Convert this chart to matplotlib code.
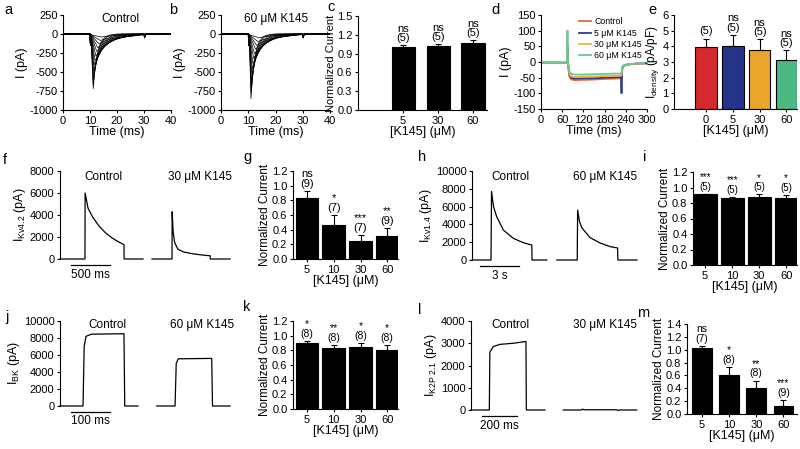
import matplotlib
matplotlib.use("Agg")
import matplotlib.pyplot as plt
import numpy as np

plt.rcParams["font.family"] = ["Liberation Sans", "DejaVu Sans"]
plt.rcParams["mathtext.fontset"] = "custom"
plt.rcParams["mathtext.rm"] = "Liberation Sans"
plt.rcParams["mathtext.it"] = "Liberation Sans:italic"
plt.rcParams["axes.unicode_minus"] = False

W, H = 800, 449

# ---- a / b : Na current families (peak pA, peak time ms, decay time ms)
A_PEAKS = [-720, -660, -600, -530, -470, -410, -350, -290, -230, -180, -130, -85, -40]
A_TPEAK = [11.2, 11.2, 11.3, 11.4, 11.5, 11.7, 11.9, 12.2, 12.5, 12.9, 13.3, 13.8, 14.3]
A_TAU = [1.5, 1.8, 2.2, 2.7, 3.3, 4.0, 4.7, 5.3, 5.8, 6.2, 6.5, 6.5, 6.5]
B_PEAKS = [-850, -770, -690, -610, -530, -460, -390, -320, -260, -200, -150, -100, -50]
B_TPEAK = [11.0, 11.1, 11.1, 11.2, 11.3, 11.5, 11.7, 12.0, 12.3, 12.7, 13.1, 13.6, 14.1]
B_TAU = [1.4, 1.6, 2.0, 2.4, 2.9, 3.5, 4.1, 4.7, 5.2, 5.6, 6.0, 6.0, 6.0]
DECAY_K = [0, 0.3, 0.7, 1, 1.5, 2, 3, 4, 6]
DECAY_FRAC = [1, 0.74, 0.5, 0.37, 0.22, 0.14, 0.05, 0.02, 0.0]

# ---- d : Nav traces
D_TIME = [0, 73, 75, 76, 80, 85, 95, 120, 150, 180, 210, 226, 228, 230, 234, 245, 270, 300]
D_CONTROL = [-2, -2, 40, 0, -45, -55, -58, -57, -56, -54, -53, -52, -50, -20, -12, -8, -5, -4]
D_5UM = [-2, -2, 50, 0, -40, -50, -53, -52, -52, -50, -49, -48, -100, -20, -12, -8, -5, -4]
D_30UM = [-2, -2, 60, 0, -38, -46, -48, -47, -46, -45, -44, -44, -42, -18, -12, -8, -5, -4]
D_60UM = [-3, -3, 100, 5, -30, -38, -40, -40, -39, -38, -37, -37, -36, -15, -10, -7, -5, -3]
D_LABELS = ["Control", "5 μM K145", "30 μM K145", "60 μM K145"]
D_COLORS = ["#E4673E", "#2E3B8C", "#F2B134", "#6CC497"]

# ---- bar panels
C_CATS = ["5", "30", "60"]
C_MEANS = [1.0, 1.02, 1.07]
C_ERR = [0.03, 0.03, 0.04]
C_N = [5, 5, 5]
C_SIG = ["ns", "ns", "ns"]

E_CATS = ["0", "5", "30", "60"]
E_MEANS = [3.95, 4.05, 3.75, 3.15]
E_ERR = [0.55, 0.7, 0.7, 0.6]
E_N = [5, 5, 5, 5]
E_SIG = ["", "ns", "ns", "ns"]
E_COLORS = ["#D42A2F", "#25338A", "#EAA62B", "#4CB985"]

CATS4 = ["5", "10", "30", "60"]
G_MEANS = [0.83, 0.47, 0.24, 0.32]
G_ERR = [0.1, 0.13, 0.09, 0.1]
G_N = [9, 7, 7, 9]
G_SIG = ["ns", "*", "***", "**"]

I_MEANS = [0.91, 0.87, 0.88, 0.87]
I_ERR = [0.01, 0.01, 0.03, 0.03]
I_N = [5, 5, 5, 5]
I_SIG = ["***", "***", "*", "*"]

K_MEANS = [0.90, 0.83, 0.84, 0.80]
K_ERR = [0.03, 0.04, 0.06, 0.07]
K_N = [8, 8, 8, 8]
K_SIG = ["*", "**", "*", "*"]

M_MEANS = [1.03, 0.61, 0.40, 0.13]
M_ERR = [0.03, 0.12, 0.12, 0.09]
M_N = [7, 8, 8, 9]
M_SIG = ["ns", "*", "**", "***"]

# ---- f / h / j / l : example traces (control, drug)
F_CTRL_T = [0, 320, 322, 360, 420, 500, 580, 660, 740, 820, 822, 1064]
F_CTRL_Y = [0, 0, 6000, 4600, 3800, 3000, 2400, 1950, 1600, 1300, 0, 0]
F_DRUG_T = [0, 256, 258, 270, 290, 330, 400, 500, 600, 700, 744, 746, 1000]
F_DRUG_Y = [0, 0, 4300, 2500, 1500, 900, 650, 500, 400, 320, 300, 0, 0]

H_CTRL_T = [0, 1.46, 1.5, 1.65, 1.9, 2.41, 3.18, 3.95, 4.59, 4.61, 5.74]
H_CTRL_Y = [0, 0, 7700, 6000, 4850, 3360, 2430, 1940, 1680, 0, 0]
H_DRUG_T = [0, 1.57, 1.6, 1.75, 1.93, 2.57, 3.34, 4.1, 4.67, 4.69, 6.16]
H_DRUG_Y = [0, 0, 5600, 4300, 3600, 2500, 1900, 1500, 1350, 0, 0]

J_CTRL_T = [0, 59, 62, 66.7, 81, 164, 166, 200]
J_CTRL_Y = [0, 0, 7000, 8200, 8450, 8500, 0, 0]
J_DRUG_T = [0, 47, 50, 55, 141, 143, 188]
J_DRUG_Y = [0, 0, 5000, 5550, 5600, 0, 0]

L_CTRL_T = [0, 103, 106, 125, 163, 238, 309, 311, 416]
L_CTRL_Y = [0, 0, 2600, 2850, 2950, 3000, 3080, 0, 0]
L_DRUG_T = [0, 100, 108, 116, 300, 308, 316, 412]
L_DRUG_Y = [0, 0, 40, 10, 10, -20, 0, 0]

fig = plt.figure(figsize=(W / 100, H / 100), dpi=100)


def px_axes(left, top, right, bottom):
    return fig.add_axes([left / W, 1 - bottom / H, (right - left) / W, (bottom - top) / H])


def ptext(x, y, s, **kw):
    kw.setdefault("ha", "center")
    kw.setdefault("va", "center")
    kw.setdefault("fontsize", 8.5)
    fig.text(x / W, 1 - y / H, s, **kw)


def style(ax):
    for side in ("top", "right"):
        ax.spines[side].set_visible(False)
    for side in ("left", "bottom"):
        ax.spines[side].set_linewidth(0.8)
    ax.tick_params(direction="out", length=2.5, width=0.8, labelsize=8, pad=1.5)


def na_family(ax, peaks, tpeaks, taus, title_x, title):
    for p, tp, tau in zip(peaks, tpeaks, taus):
        t = [0, 10.0, 10.15, 10.35, tp] + [tp + k * tau for k in DECAY_K[1:]] + [30, 30.2, 30.5, 40]
        y = [0, 0, -150, -10, p] + [p * f for f in DECAY_FRAC[1:]] + [0, -50, 0, 0]
        order = np.argsort(t, kind="stable")
        ax.plot(np.array(t)[order], np.array(y)[order], color="black", lw=0.5)
    style(ax)
    ax.set_xlim(0, 40)
    ax.set_ylim(-1000, 250)
    ax.set_xticks([0, 10, 20, 30, 40])
    ax.set_yticks([250, 0, -250, -500, -750, -1000])
    ax.set_xlabel("Time (ms)", fontsize=9, labelpad=0)
    ax.set_ylabel("I (pA)", fontsize=9, labelpad=1)
    ptext(title_x, 19, title)


def bar_panel(ax, cats, means, errs, ns, sigs, ymax, ystep, xlim, width,
              colors="black", fmt="%.1f", annot_size=8, ylabel="Normalized Current",
              ylabel_size=8.5):
    x = np.arange(len(cats))
    ax.bar(x, means, width=width, color=colors, edgecolor="black", linewidth=0.8)
    ax.errorbar(x, means, yerr=[np.zeros(len(errs)), errs], fmt="none", ecolor="black",
                elinewidth=0.8, capsize=2.2, capthick=0.8)
    for xi, m, e, n, s in zip(x, means, errs, ns, sigs):
        label = f"{s}\n({n})" if s else f"({n})"
        ax.annotate(label, xy=(xi, m + e), xytext=(0, 1.5), textcoords="offset points",
                    ha="center", va="bottom", fontsize=annot_size, linespacing=0.95,
                    annotation_clip=False)
    style(ax)
    ax.set_xlim(*xlim)
    ax.set_ylim(0, ymax)
    ax.set_xticks(x)
    ax.set_xticklabels(cats)
    ticks = np.arange(0, ymax + ystep / 2, ystep)
    ax.set_yticks(ticks)
    ax.set_yticklabels([fmt % t for t in ticks])
    ax.set_xlabel("[K145] (μM)", fontsize=9, labelpad=0)
    ax.set_ylabel(ylabel, fontsize=ylabel_size, labelpad=1)


def trace_panel(ax, ct, cy, dt, dy, offset, xmax, ymax, ystep, ylabel, bar_t, bar_label,
                ctrl_xy, drug_xy, drug_label):
    ax.plot(ct, cy, color="black", lw=0.9, clip_on=False)
    ax.plot(np.array(dt) + offset, dy, color="black", lw=0.9, clip_on=False)
    style(ax)
    ax.spines["bottom"].set_visible(False)
    ax.tick_params(axis="x", bottom=False, labelbottom=False)
    ax.set_xlim(0, xmax)
    ax.set_ylim(0, ymax)
    ax.set_yticks(np.arange(0, ymax + 1, ystep))
    ax.set_ylabel(ylabel, fontsize=9, labelpad=1)
    ax.plot(bar_t, [-0.07 * ymax] * 2, color="black", lw=0.9, clip_on=False)
    ax.text(sum(bar_t) / 2, -0.11 * ymax, bar_label, ha="center", va="top", fontsize=8.5)
    ptext(*ctrl_xy, "Control")
    ptext(*drug_xy, drug_label)


# a, b
ax = px_axes(63, 15, 171, 110)
na_family(ax, A_PEAKS, A_TPEAK, A_TAU, 120, "Control")
ax = px_axes(221, 15, 330, 110)
na_family(ax, B_PEAKS, B_TPEAK, B_TAU, 276, "60 μM K145")

# c
ax = px_axes(358, 16, 487, 110)
bar_panel(ax, C_CATS, C_MEANS, C_ERR, C_N, C_SIG, 1.5, 0.3, (-1.29, 2.4), 0.66,
          ylabel_size=8)

# d
ax = px_axes(541, 15, 647, 109)
for ys, lab, col in zip([D_CONTROL, D_5UM, D_30UM, D_60UM], D_LABELS, D_COLORS):
    ax.plot(D_TIME, ys, color=col, lw=1.3, label=lab)
style(ax)
ax.set_xlim(0, 300)
ax.set_ylim(-150, 150)
ax.set_xticks(range(0, 301, 60))
ax.set_yticks(range(-150, 151, 50))
ax.set_xlabel("Time (ms)", fontsize=9, labelpad=0)
ax.set_ylabel("I (pA)", fontsize=9, labelpad=1)
ax.legend(loc="upper right", bbox_to_anchor=(1.0, 1.03), fontsize=6.3, frameon=False,
          handlelength=1.3, handletextpad=0.4, labelspacing=0.25, borderaxespad=0.2)

# e
ax = px_axes(674, 15, 797, 109)
bar_panel(ax, E_CATS, E_MEANS, E_ERR, E_N, E_SIG, 6, 1, (-1.2, 3.4), 0.8,
          colors=E_COLORS, fmt="%d", ylabel="I$_{\\mathrm{density}}$ (pA/pF)")

# f, g
ax = px_axes(60, 171, 232, 259)
trace_panel(ax, F_CTRL_T, F_CTRL_Y, F_DRUG_T, F_DRUG_Y, 1180, 2205, 8000, 2000,
            "I$_{\\mathrm{Kv4.2}}$ (pA)", [141, 641], "500 ms", (103, 177), (200, 177), "30 μM K145")
ax = px_axes(293, 171, 398, 259)
bar_panel(ax, CATS4, G_MEANS, G_ERR, G_N, G_SIG, 1.2, 0.2, (-0.52, 3.4), 0.85)

# h, i
ax = px_axes(472, 171, 640, 260)
trace_panel(ax, H_CTRL_T, H_CTRL_Y, H_DRUG_T, H_DRUG_Y, 6.51, 12.9, 10000, 2000,
            "I$_{\\mathrm{Kv1.4}}$ (pA)", [0.62, 3.62], "3 s", (510, 177), (605, 177), "60 μM K145")
ax = px_axes(693, 172, 797, 265)
bar_panel(ax, CATS4, I_MEANS, I_ERR, I_N, I_SIG, 1.2, 0.2, (-0.45, 3.4), 0.85, annot_size=7)

# j, k
ax = px_axes(60, 321, 232, 406)
trace_panel(ax, J_CTRL_T, J_CTRL_Y, J_DRUG_T, J_DRUG_Y, 248, 441, 10000, 2000,
            "I$_{\\mathrm{BK}}$ (pA)", [28, 128], "100 ms", (107, 325), (202, 325), "60 μM K145")
ax = px_axes(293, 321, 398, 409)
bar_panel(ax, CATS4, K_MEANS, K_ERR, K_N, K_SIG, 1.2, 0.2, (-0.52, 3.4), 0.85, annot_size=7.5)

# l, m
ax = px_axes(471, 321, 640, 410)
trace_panel(ax, L_CTRL_T, L_CTRL_Y, L_DRUG_T, L_DRUG_Y, 519, 950, 4000, 1000,
            "I$_{\\mathrm{K2P\\ 2.1}}$ (pA)", [60, 260], "200 ms", (510, 325), (605, 325), "30 μM K145")
ax = px_axes(687, 324, 797, 414)
bar_panel(ax, CATS4, M_MEANS, M_ERR, M_N, M_SIG, 1.4, 0.2, (-0.55, 3.5), 0.73, annot_size=7.5)

# panel letters
for letter, x, y in [("a", 8, 10), ("b", 173, 10), ("c", 331, 7), ("d", 496, 10),
                     ("e", 652, 10), ("f", 5, 160), ("g", 247, 157), ("h", 422, 157),
                     ("i", 645, 157), ("j", 7, 317), ("k", 247, 307), ("l", 420, 310),
                     ("m", 643, 313)]:
    ptext(x, y, letter, fontsize=10.5)

fig.savefig("out.png", dpi=100)
